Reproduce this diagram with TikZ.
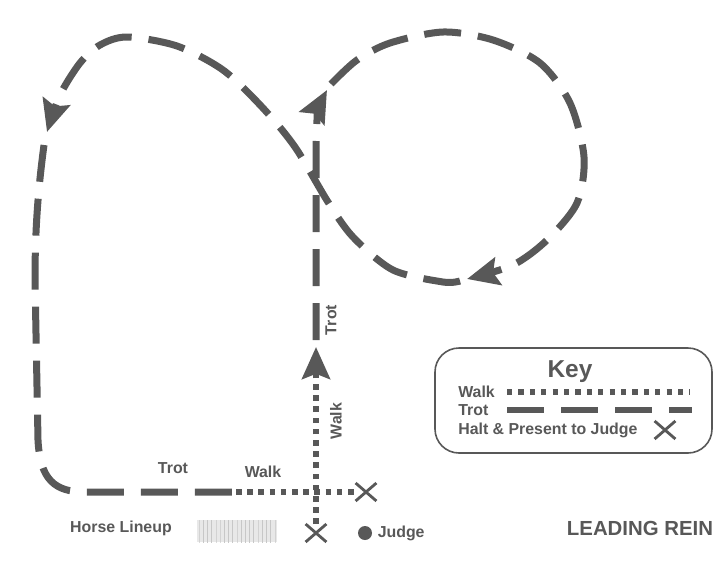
\documentclass[tikz,border=0pt]{standalone}
\usepackage{fontspec}
\setmainfont{Liberation Sans}
\usetikzlibrary{arrows.meta,patterns,shapes.misc}
\definecolor{inkgray}{HTML}{585858}
\tikzset{
	trot/.style={draw=inkgray, line width=1.75mm, dash pattern=on 9.25mm off 4.25mm},
	walk/.style={draw=inkgray, line width=1.5mm, dash pattern=on 1.4mm off 1.4mm},
	keytrot/.style={draw=inkgray, line width=1.4mm, dash pattern=on 9.25mm off 4.25mm},
	keywalk/.style={draw=inkgray, line width=1.3mm, dash pattern=on 1.3mm off 1.55mm},
	routehead/.style={-{Stealth[length=8mm,width=7mm,inset=1.3mm]}},
	lbl/.style={text=inkgray, font=\fontsize{11.3}{13}\selectfont\bfseries, inner sep=0pt},
	haltmark/.style={cross out, draw=inkgray, line width=0.7mm, minimum width=4.5mm, minimum height=3.8mm, inner sep=0pt},
}

\begin{document}
\begin{tikzpicture}[x=0.25mm, y=-0.25mm]
			%%%%% START %%%%%
			\useasboundingbox (0,0) rectangle (718,571);
			
			\node[haltmark] (startX) at (316,533) {};
			\node[haltmark] (haltX) at (366,492) {};
			
			\draw[walk, routehead] (startX.north) -- (316,347);
			\draw[trot, routehead] (316,340) -- (316,150) .. controls (316,125) and (319,105) .. (327,90);
			
			\draw[trot, routehead] plot[smooth] coordinates {(331,84) (357,60) (390,43) (443,32) (493,40) (540,63) (570,103) (584,157) (577,203) (547,240) (513,265) (467,279)};
			\draw[trot, routehead] plot[smooth] coordinates {(460,281) (443,282) (393,270) (353,237) (328,202) (295,147) (262,107) (223,70) (177,46) (127,37) (100,45) (80,63) (60,95) (47,132)};
			
			\draw[trot] (44,145) .. controls (38,190) and (35,230) .. (35,280) -- (38,440) .. controls (40,480) and (55,492) .. (85,492) -- (233,492);
			\draw[walk] (236,492) -- (haltX.west);
			
			\node[lbl, rotate=90] (trotUp) at (331,320) {Trot};
			\node[lbl, rotate=90] (walkUp) at (336,421) {Walk};
			\node[lbl] (trotLow) at (173,468) {Trot};
			\node[lbl] (walkLow) at (263,472) {Walk};
			
			\node[lbl] (lineup) at (121,528) {Horse Lineup};
			\fill[black!9] (197,520) rectangle (277,542);
			\fill[pattern=vertical lines, pattern color=black!22] (197,520) rectangle (277,542);
			
			\node[circle, fill=inkgray, minimum size=3.5mm, inner sep=0pt] (judgeDot) at (365,533) {};
			\node[lbl, anchor=west, xshift=1.3mm] (judge) at (judgeDot.east) {Judge};
			
			\draw[inkgray, line width=0.4mm, rounded corners=6mm] (435,348) rectangle (712,453);
			\node[text=inkgray, font=\fontsize{17.4}{20}\selectfont\bfseries, inner sep=0pt] (keyTitle) at (570,372) {Key};
			\node[lbl, anchor=west] (keyWalk) at (458,392) {Walk};
			\node[lbl, anchor=west] (keyTrot) at (458,410) {Trot};
			\node[lbl, anchor=west] (keyHalt) at (458,430) {Halt \& Present to Judge};
			\draw[keywalk] (507,392) -- (690,392);
			\draw[keytrot] (507,410) -- (692,410);
			\node[haltmark] (keyX) at (665,430) {};
			
			\node[text=inkgray, font=\fontsize{14.5}{17}\selectfont\bfseries, inner sep=0pt] (rein) at (640,528) {LEADING REIN};
			%%%%% END %%%%%
\end{tikzpicture}
\end{document}
